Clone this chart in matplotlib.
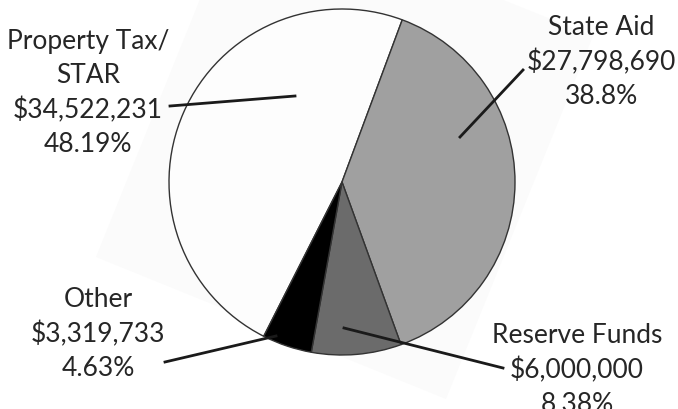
import numpy as np
import matplotlib.pyplot as plt
from matplotlib.patches import Polygon

labels = ['Property Tax/\nSTAR', 'State Aid', 'Reserve Funds', 'Other']
amounts = ['$34,522,231', '$27,798,690', '$6,000,000', '$3,319,733']
percents = [48.19, 38.8, 8.38, 4.63]
pct_text = ['48.19%', '38.8%', '8.38%', '4.63%']
colors = ['#fdfdfd', '#a0a0a0', '#6b6b6b', '#000000']

W, H = 678, 410
cx, cy, R = 342, 183, 173  # pie centre / radius in pixels


def px(x, y):
    # pixel position -> data units (pie radius = 1)
    return (x - cx) / R, (cy - y) / R


fig = plt.figure(figsize=(W / 100, H / 100), dpi=100)
ax = fig.add_axes([0, 0, 1, 1])

# faint tilted backdrop
corners = [(446, 400), (593, 37), (242, -104), (96, 258)]
ax.add_patch(Polygon([px(*c) for c in corners], closed=True,
                     facecolor='#fbfbfb', edgecolor='none', zorder=0))

ax.pie(percents, colors=colors, startangle=243.1, counterclock=False,
       radius=1, center=(0, 0), frame=True,
       wedgeprops=dict(edgecolor='#333333', linewidth=1.0))
ax.set_xlim(-cx / R, (W - cx) / R)
ax.set_ylim(-(H - cy) / R, cy / R)
ax.set_aspect('equal')
ax.axis('off')

font = dict(family='Lato', fontsize=19, color='#262626', ha='center',
            va='center', linespacing=1.45)

texts = [
    (labels[0] + '\n' + amounts[0] + '\n' + pct_text[0], 88, 93),
    (labels[1] + '\n' + amounts[1] + '\n' + pct_text[1], 601, 62),
    (labels[2] + '\n' + amounts[2] + '\n' + pct_text[2], 577, 370),
    (labels[3] + '\n' + amounts[3] + '\n' + pct_text[3], 98, 334),
]
for s, x, y in texts:
    ax.text(*px(x, y), s, **font)

leaders = [
    ((170, 107), (295, 97)),
    ((523, 71), (460, 138)),
    ((503, 369), (344, 329)),
    ((165, 363), (276, 337)),
]
for a, b in leaders:
    pa, pb = px(*a), px(*b)
    ax.plot([pa[0], pb[0]], [pa[1], pb[1]], color='#1a1a1a', lw=2, zorder=5)

fig.savefig('out.png', dpi=100)
